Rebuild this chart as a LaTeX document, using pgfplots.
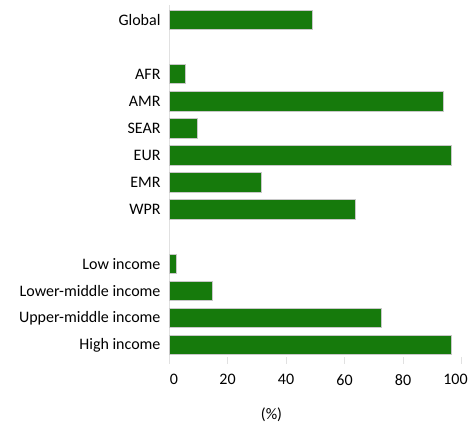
\documentclass[border=0pt]{standalone}
\usepackage{fontspec}
\setmainfont{Carlito}
\usepackage{pgfplots}
\pgfplotsset{compat=1.18}
\definecolor{barGreen}{RGB}{22,122,12}
\definecolor{barEdge}{RGB}{200,200,200}
\definecolor{axGray}{RGB}{225,225,225}
\begin{document}
\fontsize{16bp}{19bp}\selectfont
\begin{tikzpicture}
\useasboundingbox (0,0) rectangle (472bp,-427bp);
\begin{axis}[
    at={(169bp,-357bp)}, anchor=south west,
    scale only axis,
    width=292.5bp, height=352bp,
    xbar, bar width=0.72, bar shift=0pt,
    xmin=0, xmax=100,
    ymin=-0.443, ymax=12.554,
    axis x line*=bottom, axis y line*=left,
    x axis line style={draw=none},
    y axis line style={axGray, line width=1pt},
    xtick={0,20,40,60,80,100},
    xticklabels={\kern10bp 0,20,40,60,80,100\kern12bp},
    xtick style={axGray, line width=1pt},
    xtick align=outside,
    major tick length=7bp,
    xticklabel style={yshift=-5bp},
    ytick={0,1,2,3,5,6,7,8,9,10,12},
    yticklabels={High income,Upper-middle income,Lower-middle income,Low income,WPR,EMR,EUR,SEAR,AMR,AFR,Global},
    ytick style={draw=none},
    yticklabel style={xshift=4bp},
    tick label style={font=\fontsize{16bp}{19bp}\selectfont, black},
    /pgf/number format/assume math mode=true,
    xlabel={(\%)},
    xlabel style={at={(rel axis cs:0.3504,0)}, anchor=center, yshift=-58bp, font=\fontsize{16bp}{19bp}\selectfont},
    clip=false,
]
\addplot[fill=barGreen, draw=barEdge, line width=1pt] coordinates {
    (96.7,0) (72.7,1) (14.8,2) (2.7,3)
    (63.6,5) (31.7,6) (96.7,7) (9.7,8) (93.8,9) (5.8,10)
    (49.0,12)
};
\end{axis}
\end{tikzpicture}
\end{document}
